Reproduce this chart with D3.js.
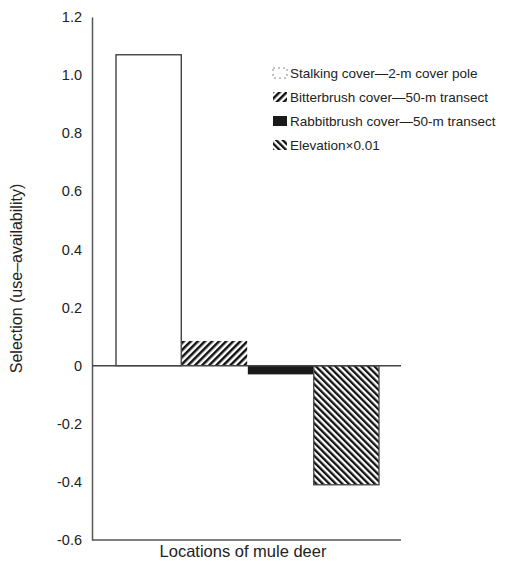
<!DOCTYPE html>
<html>
<head>
<meta charset="utf-8">
<script src="https://cdn.jsdelivr.net/npm/d3@7"></script>
<style>
  body { margin: 0; background: #fff; }
  svg { font-family: "Liberation Sans", Arial, sans-serif; }
</style>
</head>
<body>
<div id="chart"></div>
<script>
// Selection (use - availability) per habitat variable
const series = ["Stalking cover\u20142-m cover pole",
                "Bitterbrush cover\u201450-m transect",
                "Rabbitbrush cover\u201450-m transect",
                "Elevation\u00d70.01"];
const values = [1.07, 0.085, -0.03, -0.41];
const fills = ["white", "url(#hatchA)", "#1a1a1a", "url(#hatchB)"];
const tickValues = [1.2, 1.0, 0.8, 0.6, 0.4, 0.2, 0, -0.2, -0.4, -0.6];
const tickLabels = ["1.2", "1.0", "0.8", "0.6", "0.4", "0.2", "0", "-0.2", "-0.4", "-0.6"];

const width = 513, height = 565;
const svg = d3.select("#chart").append("svg")
    .attr("width", width)
    .attr("height", height);

// hatch patterns
const defs = svg.append("defs");
function hatch(id, angle, gap) {
    const p = defs.append("pattern")
        .attr("id", id)
        .attr("patternUnits", "userSpaceOnUse")
        .attr("width", gap)
        .attr("height", gap)
        .attr("patternTransform", `rotate(${angle})`);
    p.append("rect").attr("width", gap).attr("height", gap).attr("fill", "white");
    p.append("rect").attr("width", gap * 0.5).attr("height", gap).attr("fill", "#111");
}
hatch("hatchA", 45, 5);
hatch("hatchB", -45, 4.6);

const y = d3.scaleLinear().domain([-0.6, 1.2]).range([540, 17]);
const x = d3.scaleBand().domain(series).range([116, 379]).paddingInner(0.01);
const axisX = 92, axisRight = 401;

// y axis
const yAxis = svg.append("g")
    .attr("transform", `translate(${axisX},0)`)
    .call(d3.axisLeft(y).tickValues(tickValues)
        .tickFormat((d, i) => tickLabels[i]).tickSize(0).tickPadding(10));
yAxis.select(".domain").attr("stroke", "#555").attr("stroke-width", 1.5);
yAxis.selectAll("text").attr("font-size", 14.5).attr("fill", "#222")
    .attr("font-family", "Liberation Sans, Arial, sans-serif");

// bottom line
svg.append("line")
    .attr("x1", axisX).attr("x2", axisRight)
    .attr("y1", y(-0.6)).attr("y2", y(-0.6))
    .attr("stroke", "#555").attr("stroke-width", 1.5);

// bars
svg.append("g").selectAll("rect")
    .data(values)
    .join("rect")
    .attr("x", (d, i) => x(series[i]))
    .attr("width", x.bandwidth())
    .attr("y", d => y(Math.max(0, d)))
    .attr("height", d => Math.abs(y(d) - y(0)))
    .attr("fill", (d, i) => fills[i])
    .attr("stroke", (d, i) => i === 0 ? "#333" : (i === 3 ? "#444" : "none"))
    .attr("stroke-width", 1.3);

// zero line
svg.append("line")
    .attr("x1", axisX).attr("x2", axisRight)
    .attr("y1", y(0)).attr("y2", y(0))
    .attr("stroke", "#444").attr("stroke-width", 1.5);

// legend
const legend = svg.append("g").attr("transform", "translate(273,73)");
const item = legend.selectAll("g")
    .data(series)
    .join("g")
    .attr("transform", (d, i) => `translate(0,${i * 24})`);
item.append("rect")
    .attr("x", 0).attr("y", -5).attr("width", 14).attr("height", 10)
    .attr("fill", (d, i) => fills[i])
    .attr("stroke", (d, i) => i === 0 ? "#888" : "none")
    .attr("stroke-dasharray", (d, i) => i === 0 ? "2,3" : null);
item.append("text")
    .attr("x", 17).attr("y", 0).attr("dy", "0.35em")
    .attr("font-size", 13.5).attr("fill", "#222")
    .text(d => d);

// axis titles
svg.append("text")
    .attr("transform", `translate(22,${y(0.3)}) rotate(-90)`)
    .attr("text-anchor", "middle")
    .attr("font-size", 16).attr("fill", "#222")
    .text("Selection (use\u2013availability)");

svg.append("text")
    .attr("x", 243).attr("y", 557)
    .attr("text-anchor", "middle")
    .attr("font-size", 16.5).attr("fill", "#222")
    .text("Locations of mule deer");
</script>
</body>
</html>
